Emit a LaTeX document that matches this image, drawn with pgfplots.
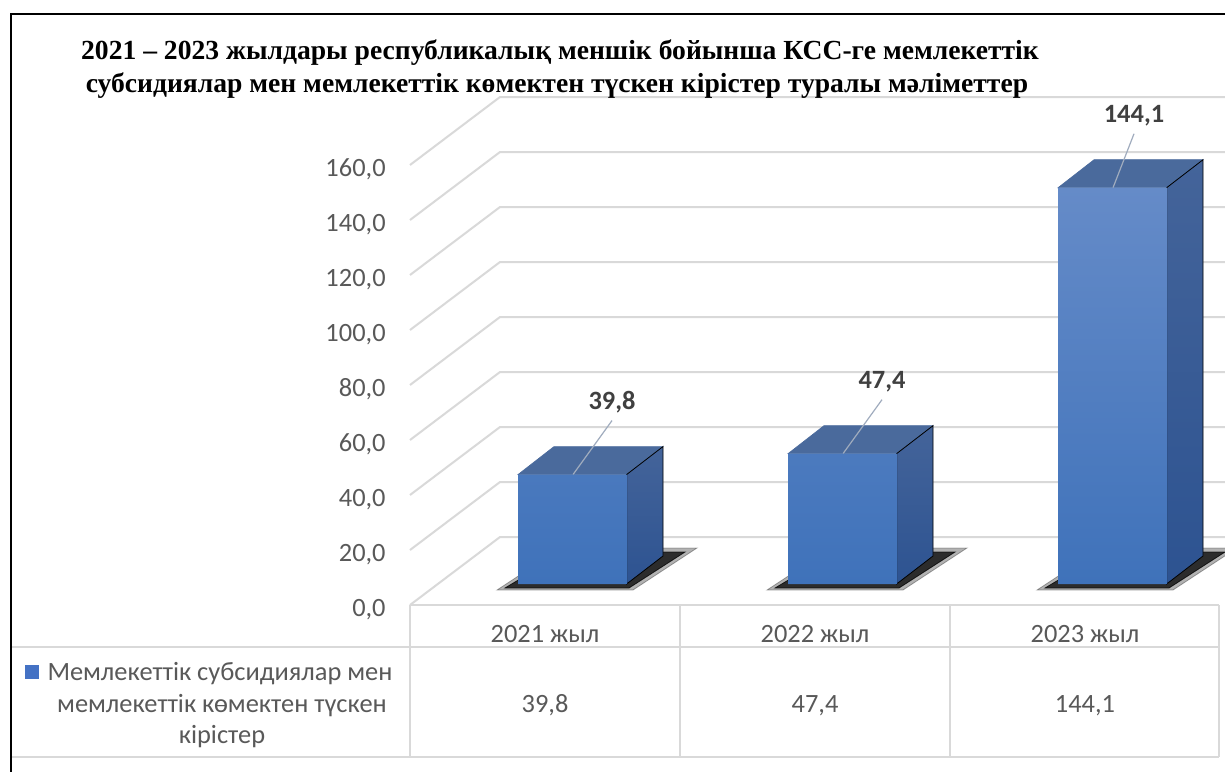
\documentclass[border=0pt]{standalone}
\usepackage{pgfplots}
\pgfplotsset{compat=1.18}
\usepackage{pgfplotstable}
\usepackage{fontspec}
\setmainfont{Carlito}
\newfontfamily\titlefont{Liberation Serif}
\definecolor{txt}{HTML}{595959}
\definecolor{lbl}{HTML}{404040}
\definecolor{gridc}{HTML}{D9D9D9}
\definecolor{frontT}{HTML}{658BC8}
\definecolor{frontB}{HTML}{3F72BA}
\definecolor{topF}{HTML}{4A6A9C}
\definecolor{sideT}{HTML}{44649A}
\definecolor{sideB}{HTML}{2D5391}
\definecolor{leg}{HTML}{4472C4}
\definecolor{lead}{HTML}{A0ACBE}
\pgfdeclareplotmark{empty}{}

\pgfplotstableread{
x y lx
0 39.8 67
1 47.4 67
2 144.1 49
}\data

\begin{document}
\begin{tikzpicture}
\begin{scope}[x=0.5pt,y=-0.5pt]
\fill[white] (0,0) rectangle (1225,771);
% back wall grid + floor diagonals
\foreach \v in {0,20,...,160}{
  \draw[gridc, line width=1pt] (410,{605-2.75*\v}) -- (500,{537-2.75*\v}) -- (1225,{537-2.75*\v});
}
% y tick labels
\foreach \v in {0,20,...,160}{
  \node[anchor=base east, text=txt, font=\fontsize{13.2}{16}\selectfont, inner sep=0pt] at (386,{616-2.75*\v}) {\v,0};
}
% title
\node[font=\titlefont\bfseries\fontsize{13.8}{16}\selectfont, anchor=base, inner sep=0pt] at (560,59) {2021 – 2023 жылдары республикалық меншік бойынша КСС-ге мемлекеттік};
\node[font=\titlefont\bfseries\fontsize{13.8}{16}\selectfont, anchor=base, inner sep=0pt] at (557,92) {субсидиялар мен мемлекеттік көмектен түскен кірістер туралы мәліметтер};
% frame
\draw[black, line width=1pt] (11,775) -- (11,14) -- (1230,14);
\end{scope}

\begin{axis}[at={(0pt,-385.5pt)}, anchor=south west,
  width=612.5pt, height=385.5pt, scale only axis,
  xmin=-2.018519, xmax=2.518519, ymin=-68, ymax=212.3636,
  hide axis, clip=false, set layers]
% shadows
\addplot[scatter, only marks, mark=empty,
  visualization depends on={rawy \as \ry},
  scatter/@pre marker code/.code={%
    \pgfmathsetlengthmacro\h{\ry*1.375pt}%
    \fill[black, opacity=0.3] (-24pt,-\h-3pt) -- (44pt,-\h-3pt) -- (76pt,-\h+18pt) -- (8pt,-\h+18pt) -- cycle;
    \fill[black, opacity=0.75] (-20pt,-\h-2pt) -- (42pt,-\h-2pt) -- (70pt,-\h+16pt) -- (10pt,-\h+16pt) -- cycle;
  },
  scatter/@post marker code/.code={}]
  table[x=x, y=y] {\data};
% top and side faces, leader lines, labels
\addplot[scatter, only marks, mark=empty,
  visualization depends on={rawy \as \ry},
  visualization depends on={\thisrow{lx} \as \lx},
  scatter/@pre marker code/.code={%
    \pgfmathsetlengthmacro\h{\ry*1.375pt}%
    \pgfmathsetlengthmacro\lxp{\lx*0.5pt}%
    \filldraw[topF, line width=0.3pt] (-13.5pt,0pt) -- (41pt,0pt) -- (59pt,14pt) -- (4.5pt,14pt) -- cycle;
    \shade[top color=sideT, bottom color=sideB] (40.8pt,0pt) -- (59pt,14pt) -- (59pt,14pt-\h) -- (40.8pt,-\h) -- cycle;
    \draw[lead, line width=0.6pt] (14pt,0pt) -- (\lxp,27pt);
    \node[font=\bfseries\fontsize{13.2}{16}\selectfont, text=lbl] at (\lxp,36pt) {\pgfmathprintnumber[fixed, precision=1, fixed zerofill, use comma, assume math mode=true]{\ry}};
  },
  scatter/@post marker code/.code={}]
  table[x=x, y=y] {\data};
% front faces
\addplot[ybar, bar width=54.5pt, bar shift=13.75pt, draw=none,
  top color=frontT, bottom color=frontB, on layer=axis foreground]
  table[x=x, y=y] {\data};
\end{axis}

\begin{scope}[x=0.5pt,y=-0.5pt]
% data table
\draw[gridc, line width=0.75pt] (410,605) -- (1219,605);
\draw[gridc, line width=0.75pt] (12,647) -- (1219,647);
\draw[gridc, line width=0.75pt] (12,757) -- (1219,757);
\foreach \X in {410,680,950,1219}{\draw[gridc, line width=0.75pt] (\X,605) -- (\X,757);}
\foreach \X/\t in {545/2021 жыл,815/2022 жыл,1085/2023 жыл}{
  \node[anchor=base, text=txt, font=\fontsize{13.2}{16}\selectfont, inner sep=0pt] at (\X,642) {\t};
}
\node[anchor=base, text=txt, font=\fontsize{13.2}{16}\selectfont, inner sep=0pt] at (545,712) {39,8};
\node[anchor=base, text=txt, font=\fontsize{13.2}{16}\selectfont, inner sep=0pt] at (815,712) {47,4};
\node[anchor=base, text=txt, font=\fontsize{13.2}{16}\selectfont, inner sep=0pt] at (1085,712) {144,1};
\fill[leg] (25,665) rectangle (39,679);
\node[anchor=base, text=txt, font=\fontsize{13.2}{16}\selectfont, inner sep=0pt] at (220,680) {Мемлекеттік субсидиялар мен};
\node[anchor=base, text=txt, font=\fontsize{13.2}{16}\selectfont, inner sep=0pt] at (222,712) {мемлекеттік көмектен түскен};
\node[anchor=base, text=txt, font=\fontsize{13.2}{16}\selectfont, inner sep=0pt] at (222,743) {кірістер};
\end{scope}
\pgfresetboundingbox
\useasboundingbox (0pt,-385.5pt) rectangle (612.5pt,0pt);
\end{tikzpicture}
\end{document}
